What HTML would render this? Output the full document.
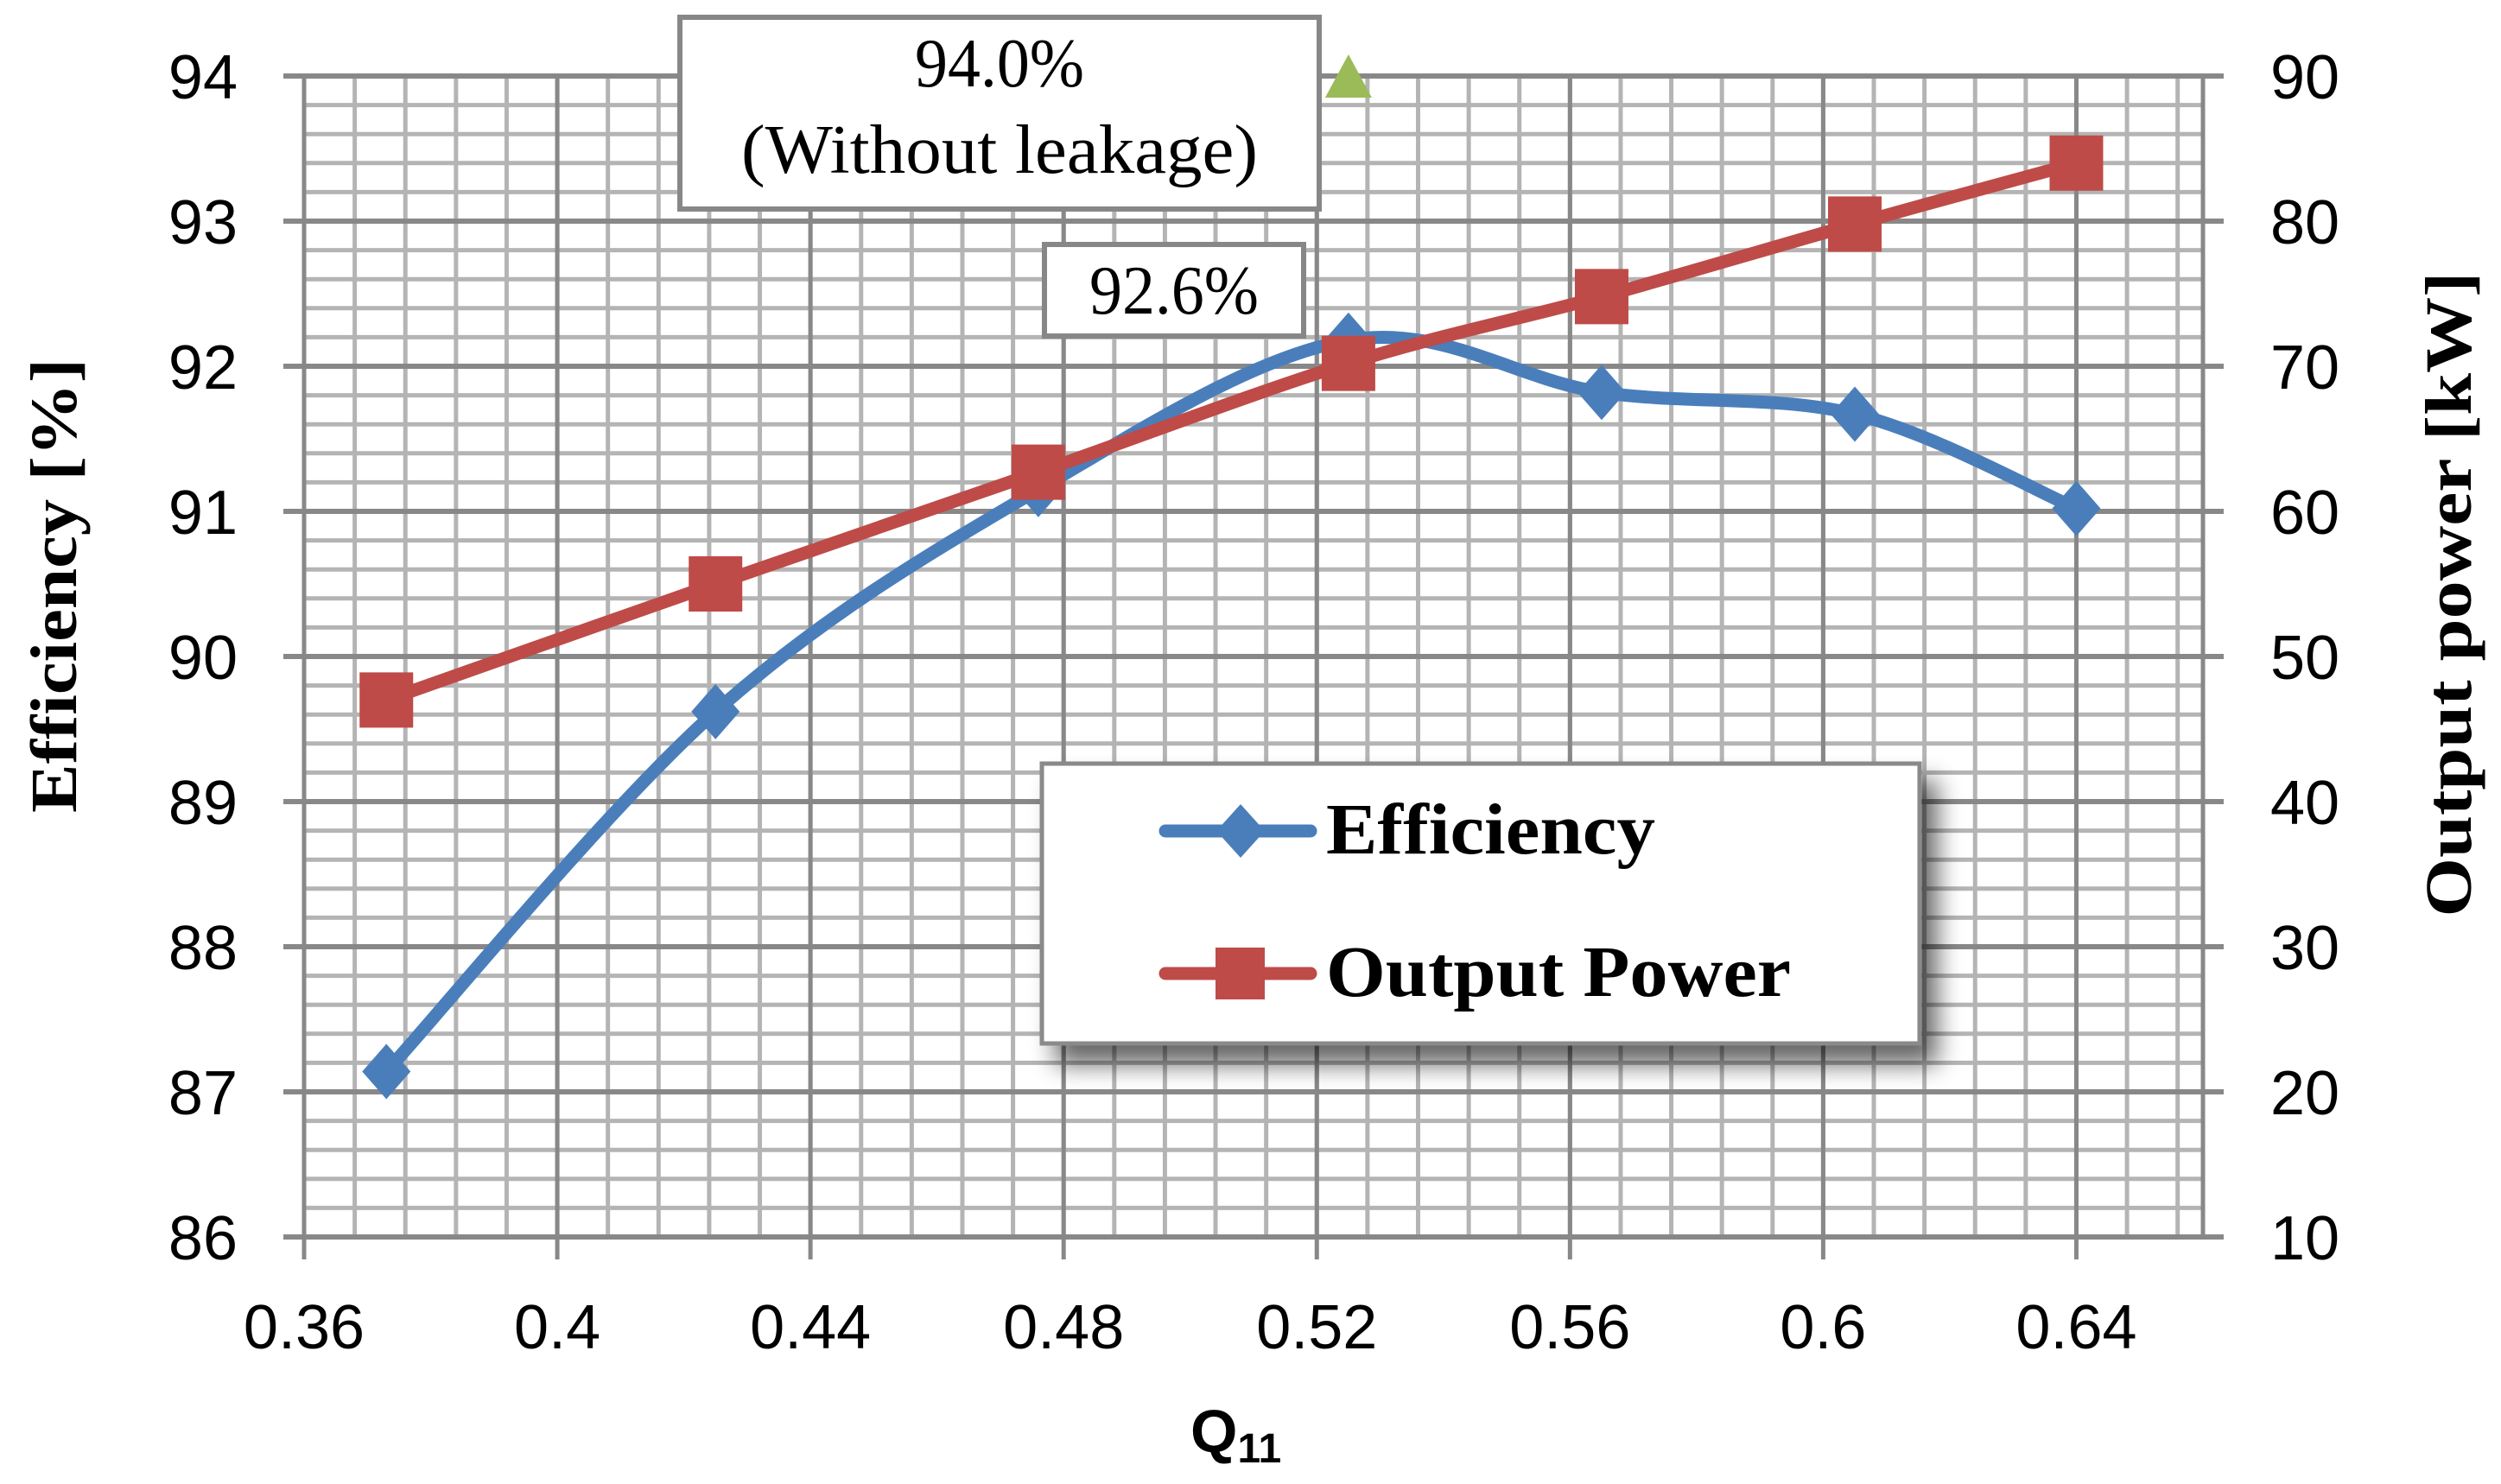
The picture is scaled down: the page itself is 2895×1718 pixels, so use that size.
<!DOCTYPE html>
<html><head><meta charset="utf-8"><style>
html,body{margin:0;padding:0;background:#fff}
svg{display:block}
</style></head><body>
<svg id="chart" width="2895" height="1718" viewBox="0 0 2895 1718" xmlns="http://www.w3.org/2000/svg">
<defs>
<filter id="sh" x="-10%" y="-10%" width="130%" height="140%"><feGaussianBlur in="SourceAlpha" stdDeviation="14"/><feOffset dx="18" dy="22"/><feComponentTransfer><feFuncA type="linear" slope="0.6"/></feComponentTransfer><feMerge><feMergeNode/><feMergeNode in="SourceGraphic"/></feMerge></filter>
</defs>
<g id="grid"></g>
<g id="ticks"></g>
<g id="series"></g>
<g>
<rect x="787" y="20" width="740" height="222" fill="#fff" stroke="#878787" stroke-width="6"/>
<text x="1157" y="100" text-anchor="middle" font-family="Liberation Serif, serif" font-size="80" textLength="196" lengthAdjust="spacingAndGlyphs">94.0%</text>
<text x="1157" y="200" text-anchor="middle" font-family="Liberation Serif, serif" font-size="80" textLength="598" lengthAdjust="spacingAndGlyphs">(Without leakage)</text>
</g>
<g>
<rect x="1209" y="283" width="300" height="106" fill="#fff" stroke="#878787" stroke-width="6"/>
<text x="1359" y="363" text-anchor="middle" font-family="Liberation Serif, serif" font-size="80" textLength="196" lengthAdjust="spacingAndGlyphs">92.6%</text>
</g>
<g>
<rect x="1206" y="884" width="1016" height="324" fill="#fff" stroke="#8a8a8a" stroke-width="5" filter="url(#sh)"/>
<g>
<line x1="1349" y1="962" x2="1517" y2="962" stroke="#4a7ebb" stroke-width="15" stroke-linecap="round"/>
<polygon points="1436,931 1464,962 1436,993 1408,962" fill="#4a7ebb"/>
<text x="1535" y="988" font-family="Liberation Serif, serif" font-weight="bold" font-size="84" textLength="381" lengthAdjust="spacingAndGlyphs">Efficiency</text>
</g>
<g>
<line x1="1349" y1="1127" x2="1517" y2="1127" stroke="#be4b48" stroke-width="15" stroke-linecap="round"/>
<rect x="1407" y="1097" width="57" height="60" fill="#be4b48"/>
<text x="1535" y="1153" font-family="Liberation Serif, serif" font-weight="bold" font-size="84" textLength="538" lengthAdjust="spacingAndGlyphs">Output Power</text>
</g>
</g>
<text transform="translate(88,678) rotate(-90)" text-anchor="middle" font-family="Liberation Serif, serif" font-weight="bold" font-size="76" textLength="526" lengthAdjust="spacingAndGlyphs">Efficiency [%]</text>
<text transform="translate(2860,688) rotate(-90)" text-anchor="middle" font-family="Liberation Serif, serif" font-weight="bold" font-size="76" textLength="747" lengthAdjust="spacingAndGlyphs">Output power [kW]</text>
<text x="1378" y="1681" font-family="Liberation Sans, sans-serif" font-weight="bold" font-size="70">Q<tspan font-size="48" dy="12">11</tspan></text>
</svg>
<script>
const xTicks = [0.36, 0.4, 0.44, 0.48, 0.52, 0.56, 0.6, 0.64];
const xTickLabels = ["0.36","0.4","0.44","0.48","0.52","0.56","0.6","0.64"];
const yLeftTicks = [86, 87, 88, 89, 90, 91, 92, 93, 94];
const yRightTicks = [10, 20, 30, 40, 50, 60, 70, 80, 90];
const q11 = [0.373, 0.425, 0.476, 0.525, 0.565, 0.605, 0.640];
const efficiency = [87.14, 89.62, 91.15, 92.18, 91.82, 91.67, 91.02];
const outputPower = [47, 55, 62.7, 70.2, 74.8, 79.8, 84];
const noLeakQ = [0.525];
const noLeakEff = [93.97];

const L=352, R=2550, T=88, B=1432;
const xMin=0.36, xMax=0.66, yMin=86, yMax=94, pMin=10, pMax=90;
const X=v=>L+(v-xMin)/(xMax-xMin)*(R-L);
const Y=v=>B-(v-yMin)/(yMax-yMin)*(B-T);
const YP=v=>B-(v-pMin)/(pMax-pMin)*(B-T);
const NS='http://www.w3.org/2000/svg';
function mk(tag,attrs,parent){const e=document.createElementNS(NS,tag);for(const k in attrs)e.setAttribute(k,attrs[k]);parent.appendChild(e);return e;}
const grid=document.getElementById('grid'), ticks=document.getElementById('ticks'), series=document.getElementById('series');

for(let i=0;i<=37;i++){const x=X(xMin+i*0.008); if(x>R+1)break;
 const l=mk('line',{x1:x,y1:T,x2:x,y2:B,stroke:'#b4b4b4','stroke-width':5},grid);
 
 }
for(let i=0;i<=40;i++){const y=Y(yMin+i*0.2);
 const l=mk('line',{x1:L,y1:y,x2:R,y2:y,stroke:'#b4b4b4','stroke-width':5},grid);
 
 }
xTicks.forEach((v,i)=>{const x=X(v);
 const l=mk('line',{x1:x,y1:T,x2:x,y2:B+26,stroke:'#888','stroke-width':5},grid);
 
 
 const t=mk('text',{x:x,y:1561,'text-anchor':'middle','font-family':'Liberation Sans, sans-serif','font-size':72},ticks);
 t.textContent=xTickLabels[i];
 
 });
const rx=mk('line',{x1:R,y1:T,x2:R,y2:B,stroke:'#888','stroke-width':5},grid);


yLeftTicks.forEach((v,i)=>{const y=Y(v);
 const l=mk('line',{x1:L-24,y1:y,x2:R+24,y2:y,stroke:'#888','stroke-width':6},grid);
 
 
 const t=mk('text',{x:275,y:y+26,'text-anchor':'end','font-family':'Liberation Sans, sans-serif','font-size':72},ticks);
 t.textContent=String(v);
 
 
 const yr=YP(yRightTicks[i]);
 const t2=mk('text',{x:2628,y:yr+26,'text-anchor':'start','font-family':'Liberation Sans, sans-serif','font-size':72},ticks);
 t2.textContent=String(yRightTicks[i]);
 
 });

function smooth(pts){let d='M'+pts[0][0]+','+pts[0][1];
 for(let i=0;i<pts.length-1;i++){const p0=pts[Math.max(0,i-1)],p1=pts[i],p2=pts[i+1],p3=pts[Math.min(pts.length-1,i+2)];
  const c1=[p1[0]+(p2[0]-p0[0])/6,p1[1]+(p2[1]-p0[1])/6],c2=[p2[0]-(p3[0]-p1[0])/6,p2[1]-(p3[1]-p1[1])/6];
  d+=' C'+c1[0]+','+c1[1]+' '+c2[0]+','+c2[1]+' '+p2[0]+','+p2[1];}
 return d;}
const effPts=q11.map((q,i)=>[X(q),Y(efficiency[i])]);
const powPts=q11.map((q,i)=>[X(q),YP(outputPower[i])]);
const le=mk('path',{d:smooth(effPts),fill:'none',stroke:'#4a7ebb','stroke-width':15,'stroke-linejoin':'round'},series);


effPts.forEach(p=>{const m=mk('polygon',{points:`${p[0]},${p[1]-32} ${p[0]+28},${p[1]} ${p[0]},${p[1]+32} ${p[0]-28},${p[1]}`,fill:'#4a7ebb'},series);
 
 });
const lp=mk('path',{d:smooth(powPts),fill:'none',stroke:'#be4b48','stroke-width':15,'stroke-linejoin':'round'},series);


powPts.forEach(p=>{const m=mk('rect',{x:p[0]-31,y:p[1]-32,width:62,height:64,fill:'#be4b48'},series);
 
 });
noLeakQ.forEach((q,i)=>{const x=X(q),y=Y(noLeakEff[i]);
 const m=mk('polygon',{points:`${x},${y-30} ${x+27},${y+20} ${x-27},${y+20}`,fill:'#9bbb59'},series);
 
 });
</script>
</body></html>
